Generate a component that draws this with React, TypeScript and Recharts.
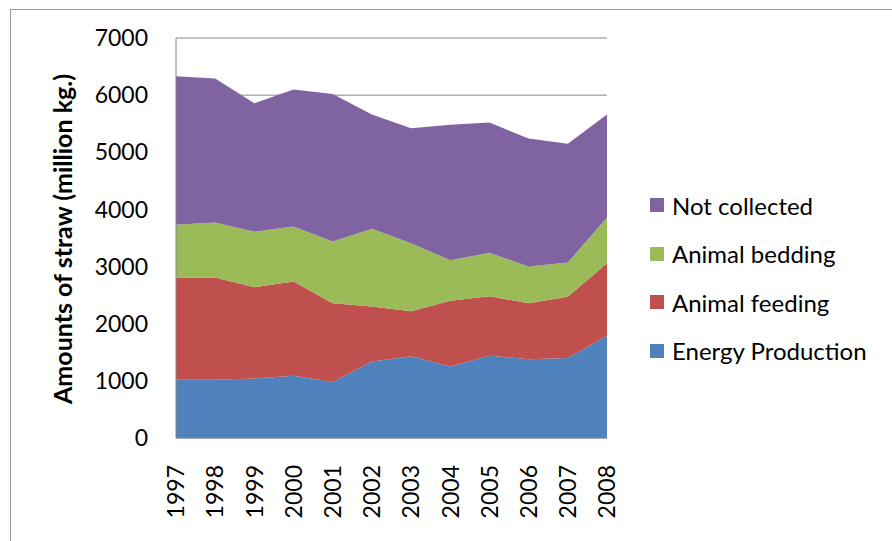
import React from 'react';
import { AreaChart, Area, XAxis, YAxis, CartesianGrid, Legend } from 'recharts';

const years = ['1997', '1998', '1999', '2000', '2001', '2002', '2003', '2004', '2005', '2006', '2007', '2008'];
const energyProduction = [1020, 1020, 1040, 1090, 980, 1340, 1430, 1250, 1440, 1380, 1400, 1790];
const animalFeeding = [1790, 1790, 1600, 1650, 1380, 960, 790, 1150, 1040, 980, 1070, 1270];
const animalBedding = [920, 960, 970, 960, 1080, 1360, 1190, 710, 760, 640, 600, 800];
const notCollected = [2600, 2520, 2250, 2400, 2580, 2000, 2010, 2370, 2280, 2240, 2080, 1800];
const yTicks = [0, 1000, 2000, 3000, 4000, 5000, 6000, 7000];

// bottom to top in the stack
const series = [
    { key: 'energy', name: 'Energy Production', color: '#4F81BD' },
    { key: 'feeding', name: 'Animal feeding', color: '#C0504D' },
    { key: 'bedding', name: 'Animal bedding', color: '#9BBB59' },
    { key: 'notCollected', name: 'Not collected', color: '#8064A2' },
];

const data = years.map((year, i) => ({
    year,
    energy: energyProduction[i],
    feeding: animalFeeding[i],
    bedding: animalBedding[i],
    notCollected: notCollected[i],
}));

const FONT = 'Lato, "Open Sans", sans-serif';

const XTick = (props: any) => {
    const { x, y, payload } = props;
    const ty = y + 27;
    return (
        <text
            x={x}
            y={ty}
            dy="0.36em"
            transform={`rotate(-90, ${x}, ${ty})`}
            textAnchor="end"
            fill="#000"
            fontSize={23}
            fontFamily={FONT}
        >
            {payload.value}
        </text>
    );
};

// legend lists the top of the stack first
const LegendList = () => (
    <div style={{ fontFamily: FONT, fontSize: 24, color: '#000' }}>
        {[...series].reverse().map((s) => (
            <div key={s.key} style={{ display: 'flex', alignItems: 'center', height: 48.5 }}>
                <span style={{ width: 14, height: 14, background: s.color, marginRight: 8, display: 'inline-block' }} />
                <span>{s.name}</span>
            </div>
        ))}
    </div>
);

export default function App() {
    return (
        <div style={{ position: 'absolute', left: 0, top: 0, width: 892, height: 541, overflow: 'hidden', background: '#fff' }}>
            <div style={{ position: 'absolute', left: 10, top: 9, width: 950, height: 650, border: '1px solid #999' }} />
            <div style={{ position: 'absolute', left: 0, top: 0 }}>
                <AreaChart width={892} height={541} data={data} margin={{ top: 38, right: 285, bottom: 0, left: 0 }}>
                    <CartesianGrid vertical={false} stroke="#868686" />
                    <XAxis
                        dataKey="year"
                        height={103}
                        tickLine={false}
                        tickSize={0}
                        tickMargin={0}
                        interval={0}
                        stroke="#868686"
                        tick={<XTick />}
                    />
                    <YAxis
                        width={176}
                        domain={[0, 7000]}
                        ticks={yTicks}
                        tickLine={false}
                        tickSize={0}
                        tickMargin={28}
                        stroke="#868686"
                        tick={{ fill: '#000', fontSize: 23, fontFamily: FONT }}
                        label={{
                            content: () => (
                                <text
                                    x={63}
                                    y={239}
                                    dy="0.36em"
                                    transform="rotate(-90, 63, 239)"
                                    textAnchor="middle"
                                    fontSize={25}
                                    fontWeight="bold"
                                    fontFamily={FONT}
                                    fill="#000"
                                >
                                    Amounts of straw (million kg.)
                                </text>
                            ),
                        }}
                    />
                    <Legend
                        layout="vertical"
                        align="center"
                        verticalAlign="middle"
                        wrapperStyle={{ left: 650, top: 181, width: 240 }}
                        content={<LegendList />}
                    />
                    {series.map((s) => (
                        <Area
                            key={s.key}
                            type="linear"
                            dataKey={s.key}
                            name={s.name}
                            stackId="1"
                            stroke="none"
                            fill={s.color}
                            fillOpacity={1}
                            isAnimationActive={false}
                        />
                    ))}
                </AreaChart>
            </div>
        </div>
    );
}
